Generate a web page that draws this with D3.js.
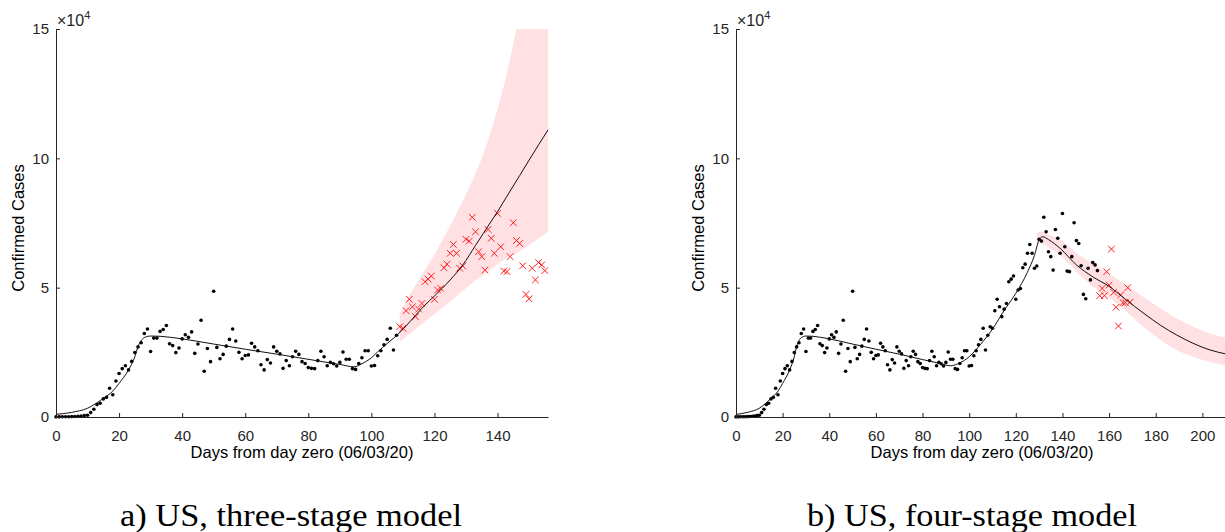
<!DOCTYPE html>
<html><head><meta charset="utf-8">
<script src="https://cdn.jsdelivr.net/npm/d3@7"></script>
<style>
body{margin:0;background:#fff}
svg{display:block;background:#fff}
text{font-family:"Liberation Sans",Arial,Helvetica,sans-serif}
</style>
</head><body>
<svg id="chart" width="1225" height="532"></svg>
<script>
// ---------------- DATA ----------------
// Daily confirmed US cases, index = day from day zero (06/03/20)
const dailyCases = [
  50, 50, 80, 100, 100, 150, 200, 300, 400, 600, 700,
  1700, 3000, 4800, 5300, 7000, 7600, 11100, 8600, 13900, 16800,
  18700, 19800, 18200, 21500, 24900, 27100, 28700, 32300, 34000, 25300,
  30500, 30500, 33100, 33800, 35400, 28300, 27600, 24900, 26700, 30200,
  31800, 30800, 32900, 24600, 28200, 37400, 17700, 26500, 21400, 48600,
  26900, 22500, 24200, 27400, 30000, 34000, 29400, 25000, 22500, 23800,
  24000, 28500, 27100, 25600, 20200, 18200, 22200, 20900, 27100, 25400,
  24400, 18800, 21800, 19800, 23300, 25400, 24200, 21400, 20700, 19100,
  18800, 18700, 21800, 25400, 23300, 19800, 21100, 20600, 19700, 21100,
  25100, 22300, 22300, 18700, 18400, 20700, 22900, 25600, 25600, 19700,
  19900, 23700, 25600, 27900, 30000, 34300, 25900, 31600, 34900, 34300,
  41100, 45500, 42600, 38800, 41700, 43900, 52300, 53300, 54500, 45500,
  49100, 49700, 57700, 59100, 63300, 66700, 63300, 57500, 58400, 68700,
  68000, 77200, 71600, 63900, 62000, 56800, 72500, 69100, 63300, 78700,
  65800, 56400, 56200, 62000, 75100, 68200, 67100, 58500, 47400, 45700,
  57500, 53000, 59700, 58800, 56600, 46900, 49700, 46900, 56200, 51000,
  64900, 48200, 42400, 35200, 47200, 44200, 44200, 50000, 44400
];

// Three-stage model fit (panel a)
const fitDaysA = [0, 5, 10, 15, 18, 20, 23, 25, 26, 27, 28, 30, 33, 40, 50, 60, 70, 77, 85, 90, 94.5, 97, 100, 102, 105, 108, 111, 114, 117, 120, 125, 129, 133, 137, 140, 143, 147, 150, 153, 156];
const fitValsA = [1000, 1800, 3400, 7200, 10000, 13000, 18200, 23300, 27200, 29500, 30700, 31300, 31200, 30200, 28200, 26200, 24300, 22900, 21300, 20300, 19400, 20600, 22900, 25200, 28400, 31500, 35200, 39300, 43300, 46800, 53000, 58800, 66300, 73800, 79400, 85400, 93300, 99300, 105200, 111000];
// Three-stage prediction band (panel a)
const bandDaysA = [109, 114, 120, 125, 130, 135, 140, 143, 146, 151, 156];
const bandLoA = [29100, 34000, 39800, 44700, 49900, 54500, 59000, 61700, 63300, 67300, 71600];
const bandHiA = [40100, 51000, 62800, 74000, 86000, 100000, 119000, 133000, 150000, 178000, 205000];

// Four-stage model fit (panel b)
const fitDaysB = [0, 5, 10, 15, 18, 20, 23, 25, 26, 27, 28, 30, 33, 40, 50, 60, 70, 80, 88, 92, 95, 100, 105, 110, 115, 120, 125, 128, 130, 131.5, 134, 139, 146, 153, 160, 167, 175, 182, 189, 196, 203, 211];
const fitValsB = [1000, 1800, 3400, 7200, 10000, 13000, 18200, 23300, 27200, 29500, 30700, 31300, 31200, 30200, 28200, 26200, 24300, 22200, 20600, 19800, 20500, 23300, 28200, 34000, 41200, 47800, 56000, 62500, 68500, 69700, 68600, 65200, 58800, 54200, 50500, 45500, 40000, 35500, 31700, 28500, 26000, 24200];
// Four-stage prediction band (panel b)
const bandDaysB = [128.8, 129.5, 131, 134, 139, 146, 153, 160, 167.5, 175, 182, 189, 196, 203, 211];
const bandLoB = [69000, 66800, 67100, 65500, 62600, 56200, 50400, 46100, 40700, 34700, 29800, 25900, 23300, 21400, 19800];
const bandHiB = [69000, 71500, 71600, 70500, 68600, 63300, 59400, 55300, 51000, 46200, 42000, 38100, 34900, 32300, 30500];

// Axis tick values
const yTicks = [0, 50000, 100000, 150000];
const xTicksA = [0, 20, 40, 60, 80, 100, 120, 140];
const xTicksB = [0, 20, 40, 60, 80, 100, 120, 140, 160, 180, 200];

// Text
const yLabel = "Confirmed Cases";
const xLabel = "Days from day zero (06/03/20)";
const captionA = "a) US, three-stage model";
const captionB = "b) US, four-stage model";

// ---------------- DRAWING ----------------
const svg = d3.select("#chart");
svg.append("rect").attr("width", 1225).attr("height", 532).attr("fill", "#fff");

const obs = dailyCases.map((v, d) => ({day: d, value: v}));
const axisColor = "#262626";
const pink = "#ffe0e3";
const red = "#ff1f1f";

const panels = [
  {id: "a", left: 56, right: 548, xMax: 156, xTicks: xTicksA, firstPred: 109, lastShown: 155,
   fitDays: fitDaysA, fitVals: fitValsA, bandDays: bandDaysA, bandLo: bandLoA, bandHi: bandHiA,
   caption: captionA, capX: 291, capW: 342},
  {id: "b", left: 736, right: 1228, xMax: 211, xTicks: xTicksB, firstPred: 156, lastShown: 169,
   fitDays: fitDaysB, fitVals: fitValsB, bandDays: bandDaysB, bandLo: bandLoB, bandHi: bandHiB,
   caption: captionB, capX: 972, capW: 330}
];

const plotTop = 29, plotBottom = 417;

panels.forEach(p => {
  const x = d3.scaleLinear().domain([0, p.xMax]).range([p.left, p.right]);
  const y = d3.scaleLinear().domain([0, 150000]).range([plotBottom, plotTop]);
  const g = svg.append("g");

  const clipId = "clip-" + p.id;
  svg.append("clipPath").attr("id", clipId).append("rect")
    .attr("x", p.left).attr("y", plotTop).attr("width", p.right - p.left).attr("height", plotBottom - plotTop);

  // prediction band
  const band = p.bandDays.map((d, i) => ({day: d, lo: p.bandLo[i], hi: p.bandHi[i]}));
  g.append("path").datum(band)
    .attr("clip-path", `url(#${clipId})`)
    .attr("fill", pink)
    .attr("d", d3.area().x(d => x(d.day)).y0(d => y(d.lo)).y1(d => y(d.hi)).curve(d3.curveMonotoneX));

  // observed (fitting) data
  g.append("g").selectAll("circle").data(obs.filter(o => o.day < p.firstPred))
    .join("circle").attr("cx", d => x(d.day)).attr("cy", d => y(d.value)).attr("r", 1.8).attr("fill", "#000");

  // observed (prediction period) data as crosses
  const sym = d3.symbol(d3.symbolTimes, 30);
  g.append("g").selectAll("path").data(obs.filter(o => o.day >= p.firstPred && o.day <= p.lastShown))
    .join("path").attr("transform", d => `translate(${x(d.day)},${y(d.value)})`)
    .attr("d", sym).attr("fill", "none").attr("stroke", red).attr("stroke-width", 1);

  // model fit line
  const fit = p.fitDays.map((d, i) => ({day: d, value: p.fitVals[i]}));
  g.append("path").datum(fit)
    .attr("clip-path", `url(#${clipId})`)
    .attr("fill", "none").attr("stroke", "#111").attr("stroke-width", 1)
    .attr("d", d3.line().x(d => x(d.day)).y(d => y(d.value)).curve(d3.curveMonotoneX));

  // axes
  const xAxis = d3.axisBottom(x).tickValues(p.xTicks).tickSizeInner(-4).tickSizeOuter(0).tickPadding(13);
  const yAxis = d3.axisLeft(y).tickValues(yTicks).tickFormat(d => d / 1e4).tickSizeInner(-4).tickSizeOuter(0).tickPadding(7);
  const gx = g.append("g").attr("transform", `translate(0,${plotBottom})`).call(xAxis);
  const gy = g.append("g").attr("transform", `translate(${p.left},0)`).call(yAxis);
  [gx, gy].forEach(a => {
    a.select(".domain").attr("stroke", axisColor);
    a.selectAll(".tick line").attr("stroke", axisColor);
    a.selectAll(".tick text").attr("fill", axisColor).style("font-size", "15px")
      .style("font-family", '"Liberation Sans", Arial, sans-serif');
  });

  // exponent label
  const ex = g.append("text").attr("x", p.left + 1).attr("y", 26).attr("fill", axisColor).style("font-size", "16px");
  ex.append("tspan").text("\u00d710");
  ex.append("tspan").attr("dy", -7).style("font-size", "11px").text("4");

  // axis labels
  g.append("text").attr("transform", `translate(${p.left - 32},${(plotTop + plotBottom) / 2 + 5}) rotate(-90)`)
    .attr("text-anchor", "middle").attr("fill", "#000").style("font-size", "16.5px").text(yLabel);
  g.append("text").attr("x", (p.left + p.right) / 2).attr("y", 458)
    .attr("text-anchor", "middle").attr("fill", "#000").style("font-size", "16.5px").text(xLabel);

  // caption
  g.append("text").attr("x", p.capX).attr("y", 526).attr("text-anchor", "middle")
    .attr("fill", "#000").style("font-family", '"Liberation Serif", "DejaVu Serif", serif')
    .style("font-size", "32px")
    .attr("textLength", p.capW).attr("lengthAdjust", "spacingAndGlyphs")
    .text(p.caption);
});
</script>
</body></html>
